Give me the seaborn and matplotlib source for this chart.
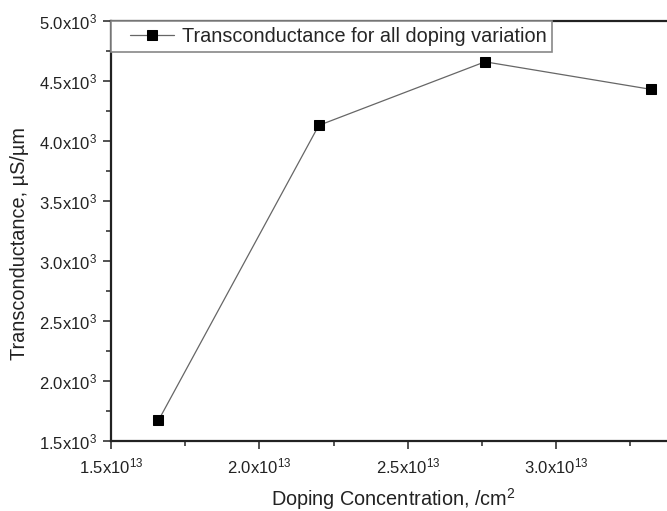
import matplotlib
matplotlib.use("Agg")
import math
import matplotlib.pyplot as plt
import seaborn as sns
import pandas as pd
from matplotlib.ticker import MultipleLocator, FuncFormatter
from matplotlib.legend_handler import HandlerLine2D
from matplotlib.lines import Line2D

doping = [1.66e13, 2.20e13, 2.76e13, 3.32e13]
transconductance = [1.672e3, 4.13e3, 4.66e3, 4.43e3]
series_label = "Transconductance for all doping variation"

df = pd.DataFrame({"doping": doping, "gm": transconductance})

sns.set_style("ticks")
plt.rcParams["font.family"] = ["Liberation Sans", "DejaVu Sans"]
plt.rcParams["mathtext.fontset"] = "custom"
plt.rcParams["mathtext.rm"] = "Liberation Sans"
plt.rcParams["mathtext.default"] = "regular"

fig = plt.figure(figsize=(6.67, 5.11), dpi=100)
ax = fig.add_axes([111 / 667, (511 - 441) / 511, (675 - 111) / 667, (441 - 21) / 511])

sns.lineplot(data=df, x="doping", y="gm", ax=ax, color="#666666", linewidth=0.9,
             marker="s", markersize=6.5, markerfacecolor="black", markeredgecolor="black",
             label=series_label)

ax.set_xlim(1.5e13, 3.4e13)
ax.set_ylim(1.5e3, 5.0e3)
ax.xaxis.set_major_locator(MultipleLocator(0.5e13))
ax.xaxis.set_minor_locator(MultipleLocator(0.25e13))
ax.yaxis.set_major_locator(MultipleLocator(0.5e3))
ax.yaxis.set_minor_locator(MultipleLocator(0.25e3))


def sci(v, pos):
    if v == 0:
        return "0"
    e = int(math.floor(math.log10(abs(v)) + 1e-9))
    m = v / 10 ** e
    return f"{m:.1f}x10$^{{{e}}}$"


ax.xaxis.set_major_formatter(FuncFormatter(sci))
ax.yaxis.set_major_formatter(FuncFormatter(sci))

ax.tick_params(which="major", direction="out", length=6, width=1.1, labelsize=12,
               colors="#222222", pad=4)
ax.tick_params(which="minor", direction="out", length=3.5, width=1.1)
ax.tick_params(axis="x", which="major", pad=5)

for side in ["left", "bottom", "top"]:
    ax.spines[side].set_visible(True)
    ax.spines[side].set_linewidth(1.6)
    ax.spines[side].set_color("#222222")
ax.spines["right"].set_visible(False)

ax.set_xlabel("Doping Concentration, /cm$^{2}$", fontsize=14.3, labelpad=7, color="#222222")
ax.set_ylabel("Transconductance, µS/µm", fontsize=14.3, color="#222222")
ax.yaxis.set_label_coords(-0.145, 0.47)


class PaddedLineHandler(HandlerLine2D):
    def create_artists(self, legend, orig_handle, xdescent, ydescent, width, height,
                       fontsize, trans):
        pad = 0.65 * fontsize
        return super().create_artists(legend, orig_handle, xdescent - pad, ydescent,
                                      width - pad, height, fontsize, trans)


leg = ax.legend(loc="upper left", borderaxespad=0, fancybox=False, frameon=True,
                fontsize=14.3, handlelength=2.85, handletextpad=0.4, borderpad=0.3,
                handler_map={Line2D: PaddedLineHandler()})
leg.get_frame().set_edgecolor("#888888")
leg.get_frame().set_linewidth(1.2)
leg.get_frame().set_alpha(1)

fig.savefig("out.png", dpi=100)
